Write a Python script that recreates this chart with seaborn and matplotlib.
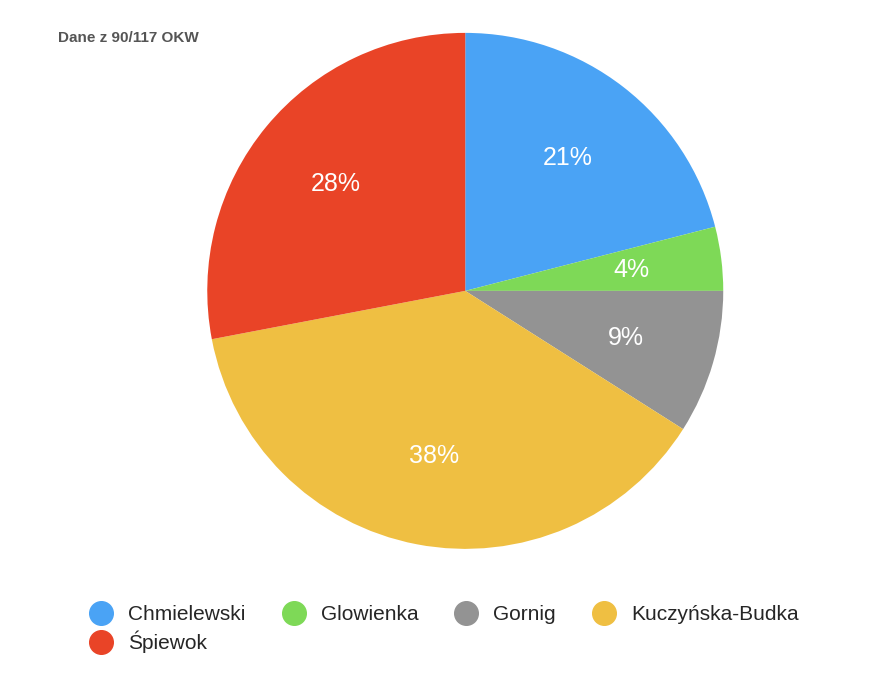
import matplotlib
matplotlib.use("Agg")
import matplotlib.pyplot as plt
from matplotlib.lines import Line2D
import seaborn as sns

candidates = ["Chmielewski", "Glowienka", "Gornig", "Kuczyńska-Budka", "Śpiewok"]
shares = [21, 4, 9, 38, 28]
colors = ["#4aa3f5", "#7ed957", "#939393", "#efbf42", "#e94427"]

sns.set_theme(style="white")
plt.rcParams["font.family"] = ["Liberation Sans", "DejaVu Sans"]

fig = plt.figure(figsize=(8.82, 6.82), dpi=100)
ax = fig.add_axes([0.235, 0.195, 0.585, 0.757])
wedges, texts, autotexts = ax.pie(
    shares, colors=colors, startangle=90, counterclock=False,
    autopct="%d%%", pctdistance=0.65, radius=1.0,
    wedgeprops=dict(linewidth=0),
    textprops=dict(color="white", fontsize=18),
)
ax.set_xlim(-1, 1)
ax.set_ylim(-1, 1)
ax.set_aspect("equal")

fig.text(0.066, 0.944, "Dane z 90/117 OKW", fontsize=11, fontweight="bold",
         color="#555555", va="center")

# reorder so the legend reads row by row
order = [0, 4, 1, 2, 3]
handles = [Line2D([0], [0], marker="o", linestyle="", markersize=17,
                  markerfacecolor=colors[i], markeredgecolor=colors[i]) for i in order]
fig.legend(handles, [candidates[i] for i in order], ncol=4, loc="upper left",
           bbox_to_anchor=(0.07, 0.14), frameon=False, fontsize=15,
           handletextpad=0.3, columnspacing=1.3, labelspacing=0.3)

fig.savefig("out.png", dpi=100)
